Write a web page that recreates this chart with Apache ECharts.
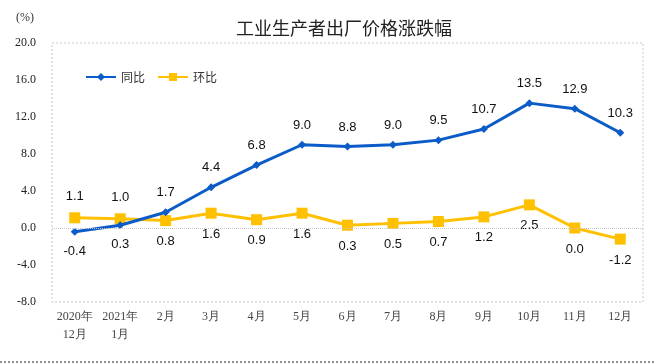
<!DOCTYPE html>
<html><head><meta charset="utf-8">
<script src="https://cdn.jsdelivr.net/npm/echarts@6/dist/echarts.min.js"></script>
<style>html,body{margin:0;padding:0;background:#fff}#c{width:656px;height:363px}</style>
</head><body><div id="c"></div>
<script>
var categories = ['2020年\n12月','2021年\n1月','2月','3月','4月','5月','6月','7月','8月','9月','10月','11月','12月'];
var yoy = [-0.4,0.3,1.7,4.4,6.8,9.0,8.8,9.0,9.5,10.7,13.5,12.9,10.3];
var mom = [1.1,1.0,0.8,1.6,0.9,1.6,0.3,0.5,0.7,1.2,2.5,0.0,-1.2];
var yTicks = [-8,-4,0,4,8,12,16,20];

var chart = echarts.init(document.getElementById('c'));
function build(vals, belowIdx, aboveAll){
  return vals.map(function(v,i){
    var above = aboveAll ? (belowIdx.indexOf(i) < 0) : (belowIdx.indexOf(i) >= 0);
    return {value:v, label:{position: above ? 'top' : 'bottom'}};
  });
}
var labelStyle = {show:true, fontFamily:'Liberation Sans, Arial', fontSize:13, color:'#111', distance:9, formatter:function(p){return p.value.toFixed(1);}};
chart.setOption({
  animation:false,
  title:{text:'工业生产者出厂价格涨跌幅', left:231, top:14,
    textStyle:{fontFamily:'Noto Sans CJK SC', fontSize:18, fontWeight:'normal', color:'#222'}},
  graphic:[
    {type:'text', left:16, top:12, style:{text:'(%)', font:'12px Liberation Serif', fill:'#333'}},
    {type:'rect', shape:{x:52,y:43,width:591,height:259}, style:{fill:'none', stroke:'#c8c8c8', lineWidth:1, lineDash:[2,2]}, z:-1},
    {type:'line', shape:{x1:0,y1:362,x2:656,y2:362}, style:{stroke:'#222', lineWidth:1, lineDash:[2,2]}}
  ],
  legend:{left:80, top:66, itemWidth:30, itemHeight:10, itemGap:12,
    textStyle:{fontFamily:'Noto Sans CJK SC', fontSize:12, color:'#333'},
    data:['同比','环比']},
  grid:{left:52, right:13, top:43, bottom:61},
  xAxis:{type:'category', data:categories, boundaryGap:true,
    axisLine:{show:false}, axisTick:{show:false},
    axisLabel:{interval:0, fontFamily:'Liberation Serif', fontSize:12, color:'#444', margin:6, lineHeight:18}},
  yAxis:{type:'value', min:yTicks[0], max:yTicks[yTicks.length-1], interval:4,
    axisLine:{show:false}, axisTick:{show:false},
    splitLine:{show:false},
    axisLabel:{fontFamily:'Liberation Serif', fontSize:12, color:'#222', margin:16, formatter:function(v){return v.toFixed(1);}}},
  series:[
    {name:'同比', type:'line', data:build(yoy,[0,1],true), color:'#0b5bc8',
      lineStyle:{width:3, color:'#0b5bc8'}, symbol:'diamond', symbolSize:8,
      itemStyle:{color:'#0b5bc8'}, label:labelStyle, z:3,
      markLine:{silent:true, symbol:'none', label:{show:false},
        lineStyle:{color:'#c8c8c8', type:'dotted', width:1}, data:[{yAxis:0}]}},
    {name:'环比', type:'line', data:build(mom,[0,1],false), color:'#ffc000',
      lineStyle:{width:3, color:'#ffc000'}, symbol:'rect', symbolSize:11,
      itemStyle:{color:'#ffc000'}, label:labelStyle, z:2}
  ]
});
</script></body></html>
